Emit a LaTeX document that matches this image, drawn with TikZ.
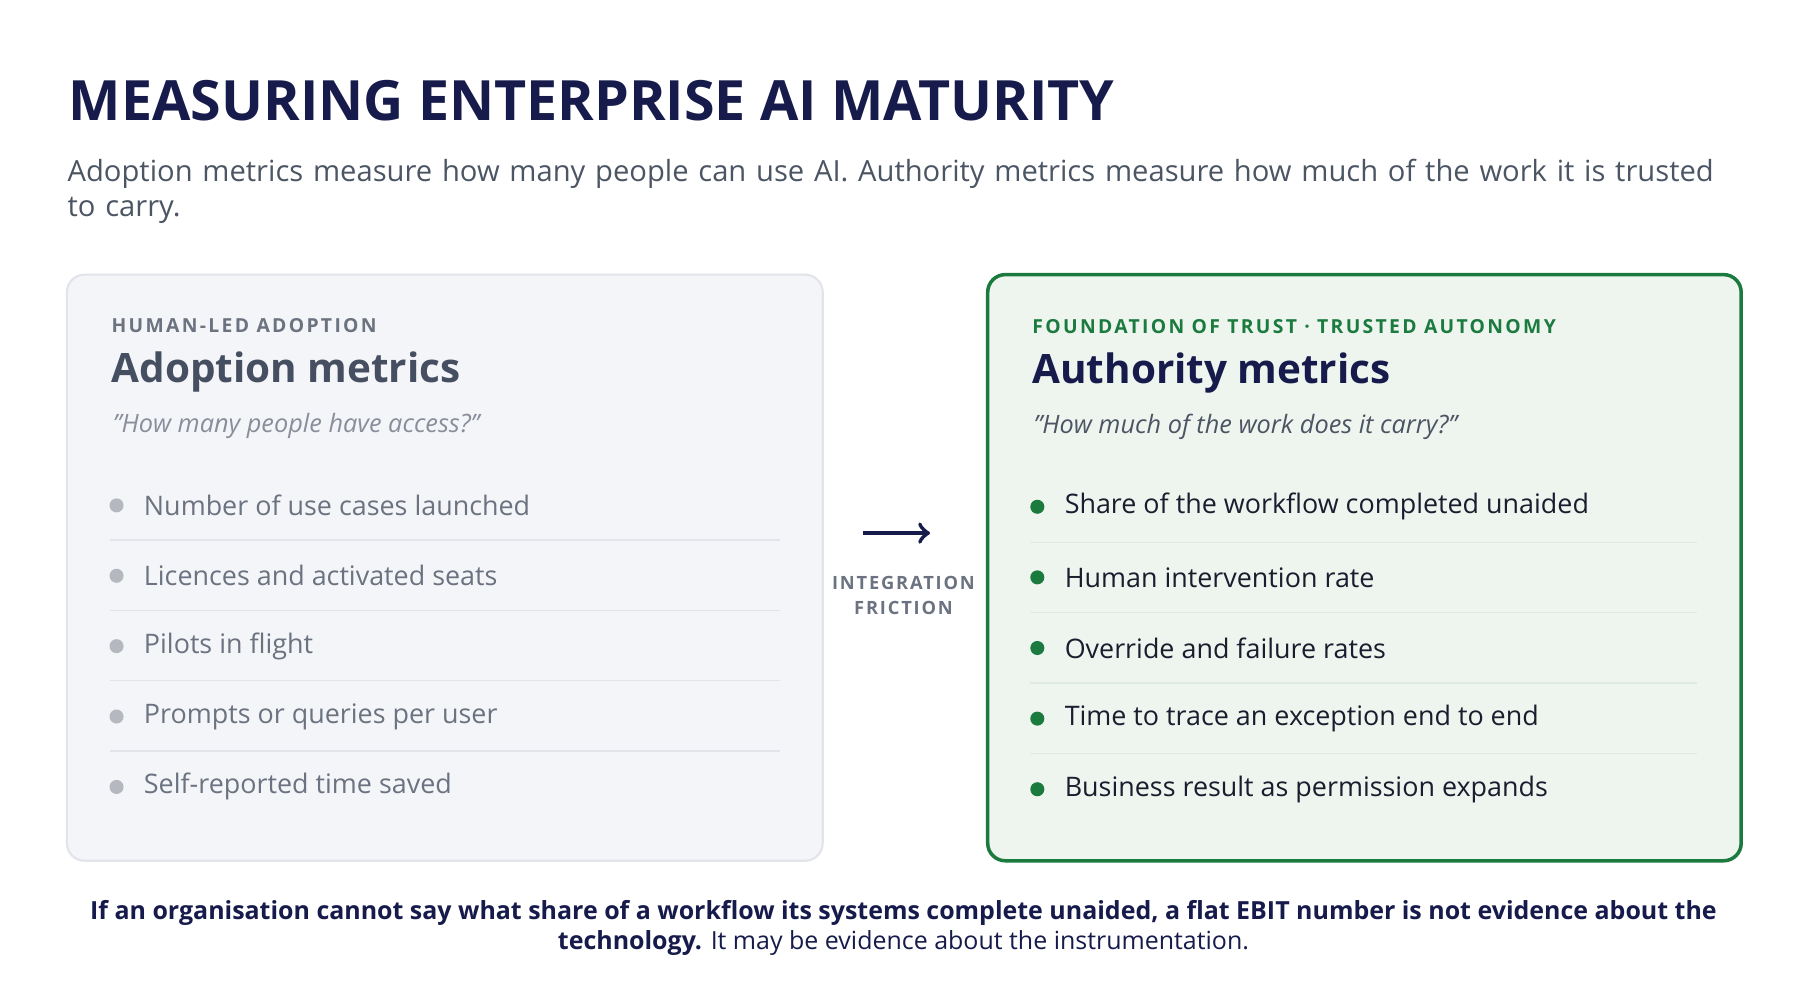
\documentclass[tikz,border=0pt]{standalone}
\usepackage{fontspec}
\setmainfont{Open Sans}
\definecolor{navy}{HTML}{161B4B}
\definecolor{slate}{HTML}{4B5563}
\definecolor{mute}{HTML}{6B7280}
\definecolor{leftfill}{HTML}{F4F5F8}
\definecolor{leftline}{HTML}{E2E4EA}
\definecolor{rightfill}{HTML}{EEF5EF}
\definecolor{trust}{HTML}{1B7A3E}
\definecolor{ink}{HTML}{1A1D2E}
\tikzset{
  kicker/.style={anchor=west, font=\fontsize{5.5}{6}\selectfont\bfseries\addfontfeature{LetterSpace=12}},
  heading/.style={anchor=west, font=\fontsize{11.5}{14}\selectfont\bfseries},
  quote/.style={anchor=west, font=\fontsize{7.2}{9}\selectfont\itshape},
  item/.style={anchor=west, font=\fontsize{7.65}{10}\selectfont},
  dot/.style={circle, inner sep=0pt, minimum size=4pt},
  rule/.style={draw=#1, line width=0.4pt}
}
\begin{document}
\begin{tikzpicture}[x=0.01154cm, y=-0.01154cm]
    \useasboundingbox (0,0) rectangle (1560,870);
    % title and subtitle
    \node (title) [anchor=west, text=navy, font=\fontsize{15.8}{20}\selectfont\bfseries] at (49,87) {MEASURING ENTERPRISE AI MATURITY};
    \node (sub) [anchor=north west, text=slate, text width=16.6cm, align=left, font=\fontsize{8.3}{10}\selectfont, inner sep=0pt] at (58,137) {Adoption metrics measure how many people can use AI. Authority metrics measure how much of the work it is trusted to carry.};
    % cards
    \draw [fill=leftfill, draw=leftline, line width=0.6pt, rounded corners=5pt] (58,238) rectangle (713,746);
    \draw [fill=rightfill, draw=trust, line width=1pt, rounded corners=5pt] (856,238) rectangle (1509,746);
    % left card
    \node (lkick) [kicker, text=mute] at (86,282) {HUMAN-LED ADOPTION};
    \node (lhead) [heading, text=slate!90!navy] at (86,322) {Adoption metrics};
    \node (lquote) [quote, text=mute!80] at (87,369) {"How many people have access?"};
    \foreach \t [count=\i] in {Number of use cases launched, Licences and activated seats, Pilots in flight, Prompts or queries per user, Self-reported time saved} {
      \node (ldot\i) [dot, fill=mute!50] at (101,377+61*\i) {};
      \node (litem\i) [item, text=mute] at (114,377+61*\i) {\t};
    }
    \foreach \i in {1,...,4} \draw [rule=leftline] (95,407+61*\i) -- (676,407+61*\i);
    % right card
    \node (rkick) [kicker, text=trust] at (884,283) {FOUNDATION OF TRUST · TRUSTED AUTONOMY};
    \node (rhead) [heading, text=navy] at (884,323) {Authority metrics};
    \node (rquote) [quote, text=slate] at (885,370) {"How much of the work does it carry?"};
    \foreach \t [count=\i] in {Share of the workflow completed unaided, Human intervention rate, Override and failure rates, Time to trace an exception end to end, Business result as permission expands} {
      \node (rdot\i) [dot, fill=trust] at (899,378+61.2*\i) {};
      \node (ritem\i) [item, text=ink] at (912,378+61.2*\i) {\t};
    }
    \foreach \i in {1,...,4} \draw [rule=trust!15] (893,409+61*\i) -- (1471,409+61*\i);
    % middle arrow
    \coordinate (afrom) at (748,462);
    \coordinate (ato) at (806,462);
    \draw [->, navy, line width=1.2pt] (afrom) -- (ato);
    \node (fric) [text=mute, align=center, font=\fontsize{5.2}{7}\selectfont\bfseries\addfontfeature{LetterSpace=10}] at (783,516) {INTEGRATION\\FRICTION};
    % footer
    \node (foot) [text=navy, align=center, font=\fontsize{7.1}{8.6}\selectfont] at (783,804) {\textbf{If an organisation cannot say what share of a workflow its systems complete unaided, a flat EBIT number is not evidence about the}\\\textbf{technology.} It may be evidence about the instrumentation.};
\end{tikzpicture}
\end{document}
